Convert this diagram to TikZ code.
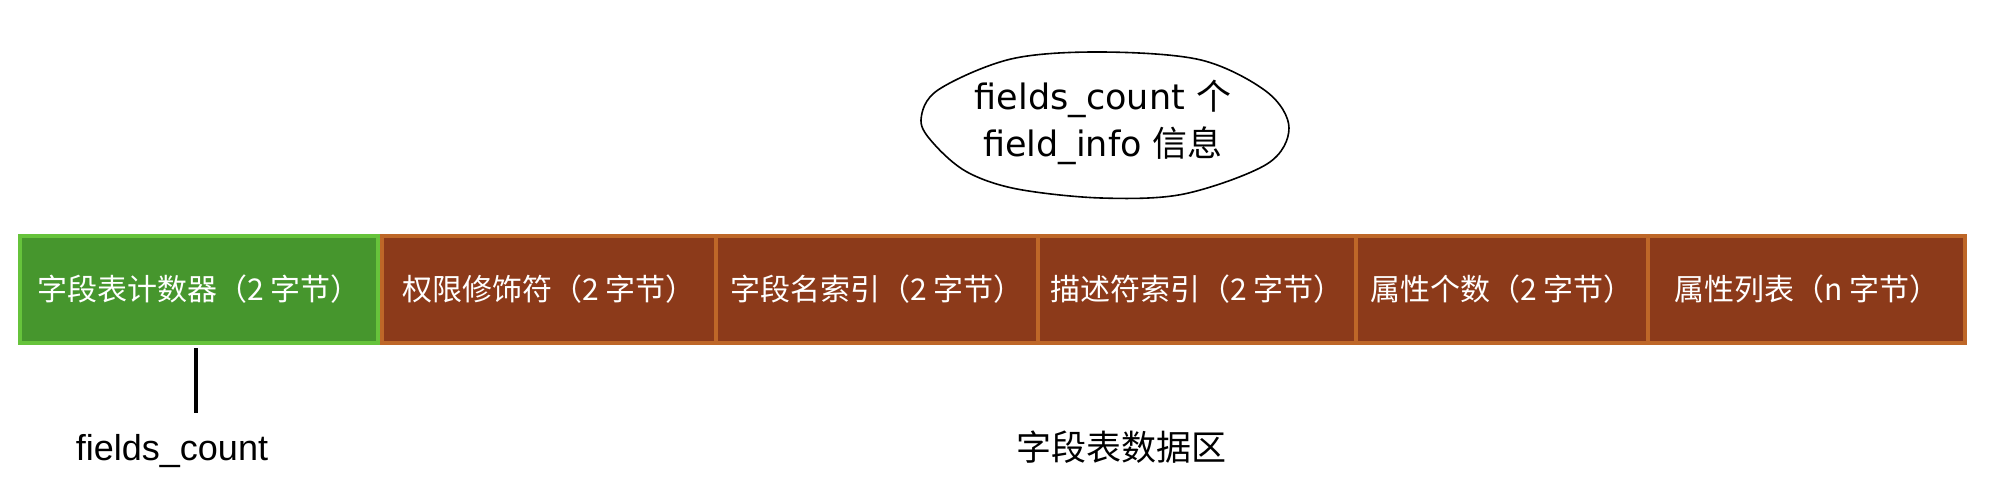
\documentclass[tikz,border=0pt]{standalone}
\usepackage{fontspec}
\setmainfont{Liberation Sans}
\newfontfamily\cjk{Noto Sans CJK SC}
\newfontfamily\hand{DejaVu Sans}
\usepackage{tikz}
\usetikzlibrary{positioning}
\definecolor{LeafGreen}{HTML}{46962D}
\definecolor{LimeEdge}{HTML}{66C33B}
\definecolor{Rust}{HTML}{8C3A1A}
\definecolor{Amber}{HTML}{BE6728}

\begin{document}
\begin{tikzpicture}[
  x=1pt,y=-1pt,
  cell/.style={rectangle,draw=Amber,fill=Rust,line width=4pt,outer sep=0pt,inner sep=0pt,minimum height=107pt,text=white,font=\cjk\fontsize{30}{36}\selectfont},
  counter/.style={cell,draw=LimeEdge,fill=LeafGreen},
  tick/.style={line width=4.5pt,black},
  caption/.style={font=\fontsize{36}{42}\selectfont},
  cloud/.style={line width=1.6pt,black}
]
\path[use as bounding box,fill=white] (0,0) rectangle (1998,492);
% the field table row
\node[counter,minimum width=358pt] (cnt) at (199,289.5) {字段表计数器（2 字节）};
\node[cell,right=4pt of cnt,minimum width=334pt] (acc) {权限修饰符（2 字节）};
\node[cell,right=0pt of acc,minimum width=322pt] (nameidx) {字段名索引（2 字节）};
\node[cell,right=0pt of nameidx,minimum width=318pt] (descidx) {描述符索引（2 字节）};
\node[cell,right=0pt of descidx,minimum width=292pt] (attrcnt) {属性个数（2 字节）};
\node[cell,right=0pt of attrcnt,minimum width=317pt] (attrs) {属性列表（n 字节）};
% labels under the row
\node[caption,anchor=base] (cntlabel) at (172,460) {fields\_count};
\node[font=\cjk\fontsize{35}{40}\selectfont] (area) at (1121,447) {字段表数据区};
\draw[tick,shorten >=17pt] ([xshift=-3pt,yshift=-5pt]cnt.south) -- ([xshift=-3pt]cnt.south |- cntlabel.north);
% note bubble
\node[align=center,font=\hand\fontsize{35}{47}\selectfont] (note) at (1103,122) {fields\_count {\cjk 个}\\field\_info {\cjk 信息}};
\draw[cloud] plot[smooth cycle,tension=0.55] coordinates {(921,120) (934,144) (967,172) (1017,189) (1101,198) (1184,194) (1267,164) (1289,128) (1267,92) (1201,60) (1101,52) (1011,59) (938,90)};
\end{tikzpicture}
\end{document}
